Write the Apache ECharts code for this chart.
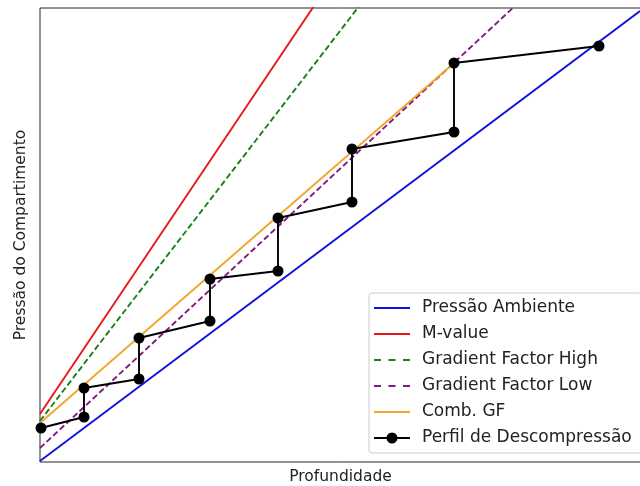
<!DOCTYPE html>
<html>
<head>
<meta charset="utf-8">
<script src="https://cdn.jsdelivr.net/npm/echarts@6/dist/echarts.min.js"></script>
<style>
html,body{margin:0;padding:0;background:#fff;}
#chart{width:640px;height:486px;}
</style>
</head>
<body>
<div id="chart"></div>
<script>
// Data (arbitrary units: depth on x, compartment pressure on y)
var seriesNames = ['Pressão Ambiente', 'M-value', 'Gradient Factor High', 'Gradient Factor Low', 'Comb. GF', 'Perfil de Descompressão'];
var ambientX = [0, 60];
var ambientY = [0.1, 45.1];
var mValueX = [0, 28];
var mValueY = [4.8, 46.5];
var gfHighX = [0, 33];
var gfHighY = [4.1, 47.0];
var gfLowX = [0, 49];
var gfLowY = [1.4, 47.0];
var combX = [0, 41.4];
var combY = [3.9, 39.9];
var profileX = [0.1, 4.4, 4.4, 9.9, 9.9, 17.0, 17.0, 23.8, 23.8, 31.2, 31.2, 41.4, 41.4, 55.9];
var profileY = [3.4, 4.5, 7.4, 8.3, 12.4, 14.1, 18.3, 19.1, 24.4, 26.0, 31.3, 33.0, 39.9, 41.6];

function pairs(xs, ys) {
  return xs.map(function (x, i) { return [x, ys[i]]; });
}

var ICON_SOLID = 'path://M0,0H36V2H0Z';
var ICON_DASH = 'path://M0,0H7V2H0Z M14.5,0H21.5V2H14.5Z M29,0H36V2H29Z';
var ICON_MARK = 'path://M0,4.5H36V6.5H0Z M23.5,5.5A5.5,5.5 0 1,1 12.5,5.5A5.5,5.5 0 1,1 23.5,5.5Z';
var legendIcons = [ICON_SOLID, ICON_SOLID, ICON_DASH, ICON_DASH, ICON_SOLID, ICON_MARK];

var FONT = 'DejaVu Sans';
var chart = echarts.init(document.getElementById('chart'), null, {renderer: 'canvas'});
var lw = 1.9;
chart.setOption({
  animation: false,
  backgroundColor: '#ffffff',
  textStyle: {fontFamily: FONT},
  grid: {left: 40, top: 8, width: 601, height: 454, outerBoundsMode: 'none', containLabel: false,
         show: true, borderColor: '#262626', borderWidth: 1, backgroundColor: 'transparent'},
  xAxis: {
    type: 'value', min: 0, max: 60.1,
    name: 'Profundidade', nameLocation: 'middle', nameGap: 7,
    nameTextStyle: {fontFamily: FONT, fontSize: 15.5, color: '#222'},
    axisLine: {show: false}, axisTick: {show: false}, axisLabel: {show: false}, splitLine: {show: false}
  },
  yAxis: {
    type: 'value', min: 0, max: 45.4,
    name: 'Pressão do Compartimento', nameLocation: 'middle', nameGap: 11,
    nameTextStyle: {fontFamily: FONT, fontSize: 15.5, color: '#222'},
    axisLine: {show: false}, axisTick: {show: false}, axisLabel: {show: false}, splitLine: {show: false}
  },
  legend: {
    orient: 'vertical', left: 369, top: 293,
    padding: [5, 10, 5, 5],
    itemWidth: 36, itemHeight: 14, itemGap: 6,
    symbolKeepAspect: true,
    backgroundColor: '#ffffff', borderColor: '#cccccc', borderWidth: 1, borderRadius: 3,
    textStyle: {fontFamily: FONT, fontSize: 17, color: '#222', lineHeight: 20, padding: [0, 0, 0, 7]},
    data: seriesNames.map(function (n, i) { return {name: n, icon: legendIcons[i]}; })
  },
  series: [
    {name: seriesNames[0], type: 'line', data: pairs(ambientX, ambientY), symbol: 'none', lineStyle: {color: '#1010e0', width: lw}, itemStyle: {color: '#1010e0'}, z: 2},
    {name: seriesNames[1], type: 'line', data: pairs(mValueX, mValueY), symbol: 'none', lineStyle: {color: '#e81818', width: lw}, itemStyle: {color: '#e81818'}, z: 2},
    {name: seriesNames[2], type: 'line', data: pairs(gfHighX, gfHighY), symbol: 'none', lineStyle: {color: '#1a7f1a', width: lw, type: [6, 3]}, itemStyle: {color: '#1a7f1a'}, z: 2},
    {name: seriesNames[3], type: 'line', data: pairs(gfLowX, gfLowY), symbol: 'none', lineStyle: {color: '#7f1a7f', width: lw, type: [6, 3]}, itemStyle: {color: '#7f1a7f'}, z: 2},
    {name: seriesNames[4], type: 'line', data: pairs(combX, combY), symbol: 'none', lineStyle: {color: '#f2a72a', width: lw}, itemStyle: {color: '#f2a72a'}, z: 2},
    {name: seriesNames[5], type: 'line', data: pairs(profileX, profileY), symbol: 'circle', symbolSize: 11, showSymbol: true, lineStyle: {color: '#000', width: lw}, itemStyle: {color: '#000'}, z: 3}
  ]
});
</script>
</body>
</html>
